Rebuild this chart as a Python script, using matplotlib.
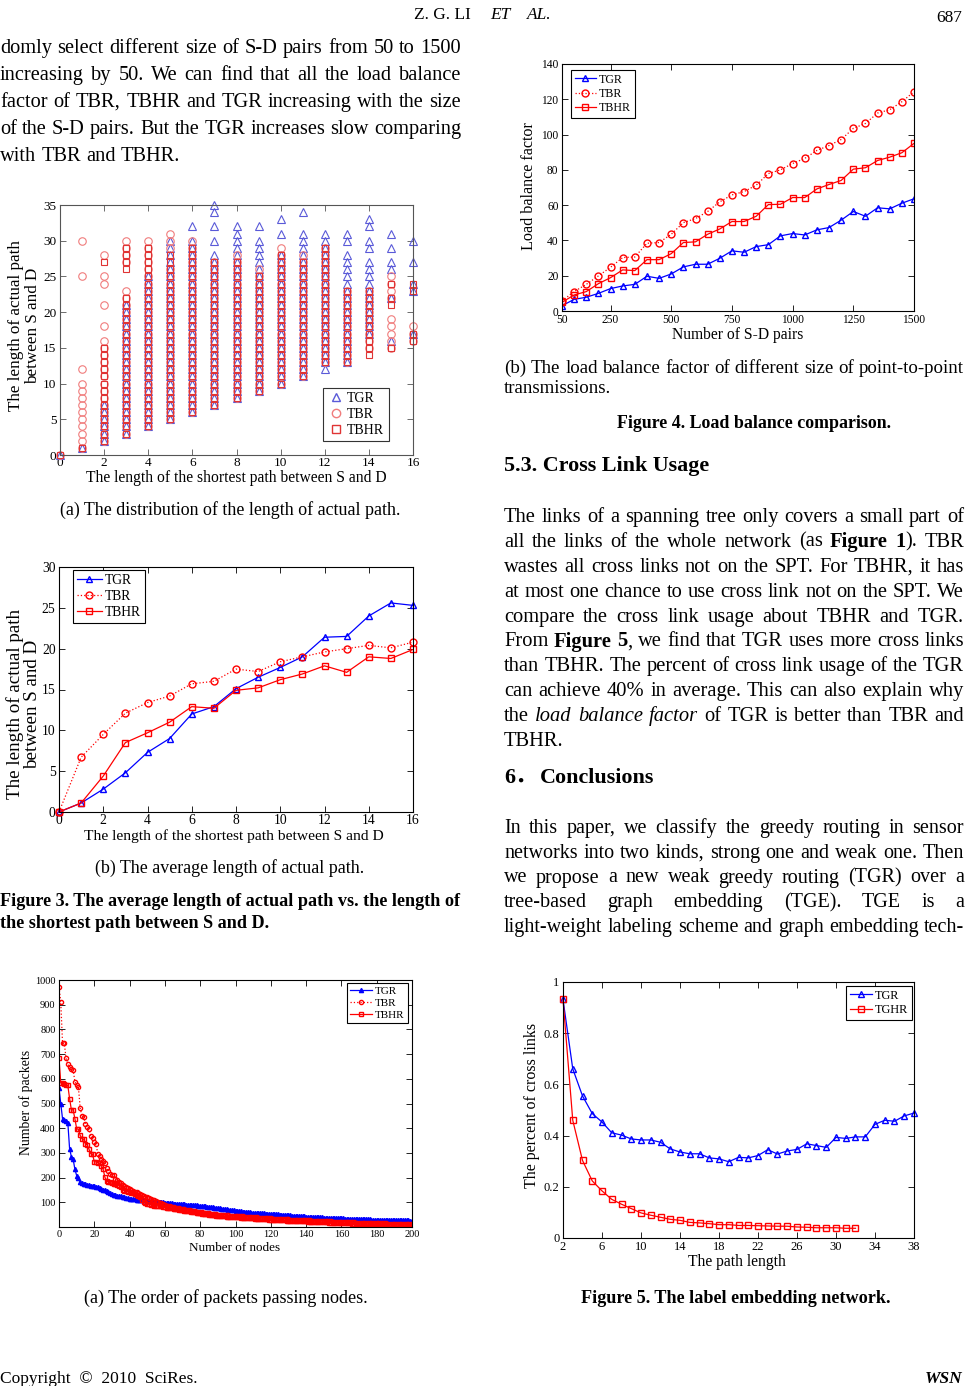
import numpy as np
import matplotlib
matplotlib.use("Agg")
import matplotlib.pyplot as plt
from matplotlib.lines import Line2D

# ---------------- data ----------------
# Fig 3(a) scatter: runs (lo, hi) of integer actual-path lengths present at each shortest-path length
TGR_RUNS = {0: [(0, 0)], 1: [(1, 1)], 2: [(2, 7)], 3: [(3, 21)], 4: [(4, 25)], 5: [(5, 30)],
            6: [(6, 30), (32, 32)], 7: [(7, 28), (30, 30), (32, 32), (34, 35)], 8: [(8, 32)],
            9: [(9, 30), (32, 32)], 10: [(10, 28), (31, 31), (33, 33)], 11: [(11, 31), (34, 34)],
            12: [(12, 31)], 13: [(13, 28), (30, 31)], 14: [(17, 27), (29, 30), (32, 33)],
            15: [(16, 16), (22, 22), (26, 27), (29, 29), (31, 31)],
            16: [(17, 17), (23, 24), (27, 27), (30, 30)]}
TBR_RUNS = {0: [(0, 0)], 1: [(1, 10), (12, 12), (25, 25), (30, 30)],
            2: [(2, 16), (18, 18), (21, 21), (24, 25), (28, 28)], 3: [(3, 23), (27, 30)],
            4: [(4, 30)], 5: [(5, 26), (29, 31)], 6: [(6, 30)], 7: [(7, 27)], 8: [(8, 28)],
            9: [(9, 26)], 10: [(10, 29)], 11: [(11, 28)], 12: [(13, 29)], 13: [(13, 23)],
            14: [(15, 23)], 15: [(15, 19), (22, 25)], 16: [(16, 18)]}
TBHR_RUNS = {0: [(0, 0)], 1: [(1, 1)], 2: [(2, 15), (27, 27)], 3: [(3, 22), (26, 29)],
             4: [(4, 29)], 5: [(5, 28)], 6: [(6, 29)], 7: [(7, 27)], 8: [(8, 27)], 9: [(9, 25)],
             10: [(10, 28)], 11: [(11, 27)], 12: [(13, 29)], 13: [(13, 23)], 14: [(14, 23)],
             15: [(15, 15), (21, 22), (24, 24)], 16: [(16, 17), (23, 24)]}

# Fig 3(b) average length of actual path
shortest = list(range(0, 17))
avg_tgr = [0, 1.1, 2.8, 4.8, 7.3, 9.0, 12.0, 12.9, 15.1, 16.5, 17.7, 19.0, 21.4, 21.5, 24.0, 25.6, 25.3]
avg_tbr = [0, 6.7, 9.5, 12.1, 13.4, 14.2, 15.7, 16.0, 17.5, 17.2, 18.4, 19.0, 19.6, 20.0, 20.4, 20.1, 20.8]
avg_tbhr = [0, 1.1, 4.4, 8.5, 9.7, 11.0, 12.9, 12.7, 14.9, 15.2, 16.2, 16.9, 17.9, 17.1, 19.0, 18.8, 19.9]

# Fig 4(a) packets per node (nodes ordered)
pk_tgr = [562, 500, 438, 435, 429, 422, 317, 285, 275, 234,
          208, 197, 181, 177, 174, 173, 171, 170, 168, 166,
          164, 162, 160, 157, 154, 151, 148, 145, 141, 137,
          133, 131, 129, 127, 126, 124, 122, 120, 118, 116,
          115, 114, 113, 112, 111, 110, 110, 109, 108, 108,
          107, 106, 105, 104, 103, 102, 101, 101, 100, 100,
          99, 98, 97, 97, 96, 95, 95, 94, 94, 93,
          92, 92, 91, 90, 90, 89, 89, 88, 88, 87,
          86, 85, 84, 83, 82, 81, 80, 79, 78, 77,
          76, 75, 74, 73, 72, 71, 70, 69, 68, 67,
          66, 65, 64, 63, 62, 62, 61, 60, 59, 58,
          58, 57, 57, 56, 56, 55, 55, 54, 54, 53,
          53, 52, 52, 51, 51, 50, 49, 49, 48, 48,
          47, 47, 46, 46, 45, 45, 44, 44, 43, 43,
          42, 42, 41, 41, 40, 40, 40, 39, 39, 39,
          38, 38, 38, 37, 37, 37, 36, 36, 36, 35,
          35, 35, 34, 34, 34, 33, 33, 33, 33, 32,
          32, 32, 32, 31, 31, 31, 31, 30, 30, 30,
          30, 30, 29, 29, 29, 29, 29, 28, 28, 28,
          28, 28, 28, 27, 27, 27, 27, 27, 27, 26,
          26]
pk_tbr = [971, 910, 745, 743, 683, 660, 648, 640, 636, 589,
          576, 566, 482, 449, 447, 415, 405, 398, 368, 362,
          345, 335, 295, 288, 275, 268, 260, 240, 225, 215,
          212, 210, 196, 190, 182, 178, 172, 168, 163, 158,
          154, 150, 147, 143, 140, 136, 132, 128, 124, 122,
          120, 117, 114, 111, 108, 105, 102, 99, 96, 93,
          88, 86, 84, 83, 81, 80, 78, 77, 75, 74,
          72, 71, 70, 68, 67, 66, 65, 63, 62, 61,
          60, 59, 58, 57, 56, 55, 54, 53, 52, 51,
          50, 49, 49, 48, 48, 47, 47, 46, 46, 45,
          45, 44, 44, 43, 43, 42, 42, 41, 41, 40,
          40, 39, 39, 38, 38, 37, 37, 36, 36, 35,
          35, 34, 34, 33, 33, 33, 32, 32, 32, 31,
          31, 30, 30, 30, 29, 29, 29, 28, 28, 28,
          27, 27, 27, 26, 26, 26, 25, 25, 25, 24,
          24, 24, 23, 23, 23, 22, 22, 22, 21, 21,
          21, 20, 20, 20, 19, 19, 19, 19, 18, 18,
          18, 18, 17, 17, 17, 17, 16, 16, 16, 16,
          16, 15, 15, 15, 15, 15, 14, 14, 14, 14,
          14, 14, 13, 13, 13, 13, 13, 13, 12, 12,
          12]
pk_tbhr = [683, 583, 583, 579, 575, 573, 520, 475, 474, 439,
           398, 395, 371, 358, 355, 337, 332, 315, 297, 295,
           264, 264, 261, 258, 248, 234, 202, 185, 183, 181,
           177, 175, 174, 172, 168, 161, 150, 147, 145, 143,
           141, 139, 137, 134, 130, 127, 122, 110, 100, 97,
           94, 92, 90, 89, 87, 86, 85, 84, 83, 81,
           80, 78, 77, 76, 75, 73, 72, 71, 70, 69,
           68, 66, 65, 64, 63, 62, 61, 59, 58, 56,
           55, 54, 53, 52, 51, 50, 49, 48, 47, 46,
           45, 45, 44, 43, 43, 42, 42, 41, 41, 40,
           40, 39, 39, 38, 38, 37, 37, 36, 36, 35,
           35, 34, 34, 33, 33, 32, 32, 31, 31, 30,
           30, 29, 29, 28, 28, 28, 27, 27, 27, 26,
           26, 26, 25, 25, 25, 24, 24, 24, 23, 23,
           23, 22, 22, 22, 21, 21, 21, 20, 20, 20,
           19, 19, 19, 18, 18, 18, 17, 17, 17, 16,
           16, 16, 15, 15, 15, 15, 14, 14, 14, 14,
           13, 13, 13, 13, 12, 12, 12, 12, 12, 11,
           11, 11, 11, 11, 10, 10, 10, 10, 10, 10,
           9, 9, 9, 9, 9, 9, 9, 8, 8, 8,
           8]

# Fig 4(b) load balance factor
sd_pairs = list(range(50, 1501, 50))
lb_tgr = [3.0, 6.6, 7.8, 10.0, 12.7, 14.2, 15.1, 19.7, 18.5, 21.0, 25.0, 26.5, 26.5, 29.9, 34.1,
          33.3, 36.5, 37.6, 42.6, 43.9, 43.1, 46.0, 47.3, 51.5, 56.4, 53.7, 58.5, 57.9, 61.1, 63.6]
lb_tbr = [5.7, 11.0, 15.1, 19.9, 24.8, 30.3, 30.6, 38.4, 38.8, 43.5, 50.1, 52.4, 56.4, 61.9, 65.8,
          67.7, 71.3, 77.9, 80.0, 83.6, 86.5, 91.0, 93.8, 97.2, 103.5, 106.3, 112.2, 114.1, 118.6, 124.3]
lb_tbhr = [4.9, 9.1, 11.0, 15.5, 18.9, 23.3, 22.9, 29.1, 29.1, 32.5, 38.8, 39.2, 43.5, 46.5, 50.7,
           50.7, 53.7, 60.3, 60.5, 64.3, 64.3, 69.2, 71.7, 74.0, 80.4, 81.2, 85.3, 87.2, 89.7, 95.0]

# Fig 5 percent of cross links
path_tgr = list(range(2, 39))
cl_tgr = [0.932, 0.661, 0.555, 0.486, 0.453, 0.411, 0.402, 0.387, 0.383, 0.383, 0.374, 0.348, 0.336,
          0.329, 0.329, 0.313, 0.309, 0.298, 0.315, 0.313, 0.322, 0.345, 0.328, 0.340, 0.346, 0.368,
          0.361, 0.354, 0.393, 0.389, 0.395, 0.395, 0.444, 0.460, 0.456, 0.477, 0.488]
path_tghr = list(range(2, 33))
cl_tghr = [0.932, 0.460, 0.303, 0.223, 0.184, 0.151, 0.132, 0.115, 0.098, 0.089, 0.081, 0.073, 0.069,
           0.061, 0.059, 0.056, 0.052, 0.052, 0.049, 0.049, 0.048, 0.047, 0.046, 0.046, 0.043, 0.042,
           0.040, 0.040, 0.040, 0.038, 0.038]

# ---------------- page text ----------------
PAR_TOP = ["domly select different size of S-D pairs from 50 to 1500",
           "increasing by 50. We can find that all the load balance",
           "factor of TBR, TBHR and TGR increasing with the size",
           "of the S-D pairs. But the TGR increases slow comparing",
           "with TBR and TBHR."]
PAR_CROSS = ["The links of a spanning tree only covers a small part of",
             "all the links of the whole network (as *Figure 1*). TBR",
             "wastes all cross links not on the SPT. For TBHR, it has",
             "at most one chance to use cross link not on the SPT. We",
             "compare the cross link usage about TBHR and TGR.",
             "From *Figure 5*, we find that TGR uses more cross links",
             "than TBHR. The percent of cross link usage of the TGR",
             "can achieve 40% in average. This can also explain why",
             "the _load balance factor_ of TGR is better than TBR and",
             "TBHR."]
PAR_CONC = ["In this paper, we classify the greedy routing in sensor",
            "networks into two kinds, strong one and weak one. Then",
            "we propose a new weak greedy routing (TGR) over a",
            "tree-based graph embedding (TGE). TGE is a",
            "light-weight labeling scheme and graph embedding tech-"]

# ---------------- setup ----------------
W, H, DPI = 967, 1386, 100
SERIF = "Liberation Serif"
plt.rcParams["font.family"] = [SERIF, "DejaVu Serif"]
fig = plt.figure(figsize=(W / DPI, H / DPI), dpi=DPI)
fig.patch.set_facecolor("white")
R = fig.canvas.get_renderer()
BLUE, RED = "#0000ff", "#ff0000"


def put(s, x, y, size, ha="left", va="baseline", weight="normal", style="normal", rot=0, family=None,
        color="k", rmode="default"):
    kw = dict(fontsize=size, ha=ha, va=va, fontweight=weight, fontstyle=style, rotation=rot, color=color,
              rotation_mode=rmode)
    if family:
        kw["family"] = family
    return fig.text(x / W, 1 - y / H, s, **kw)


def width_of(s, size, weight="normal", style="normal", family=None):
    t = put(s, 0, -100, size, weight=weight, style=style, family=family)
    w = t.get_window_extent(R).width
    t.remove()
    return w


def fitsize(s, width, weight="normal", style="normal", family=None):
    return 10 * width / width_of(s, 10, weight, style, family)


def parse(line):
    words, cur, buf = [], [], ""
    bold = ital = False
    for ch in line:
        if ch in "*_":
            if buf:
                cur.append((buf, bold, ital)); buf = ""
            if ch == "*":
                bold = not bold
            else:
                ital = not ital
        elif ch == " ":
            if buf:
                cur.append((buf, bold, ital)); buf = ""
            if cur:
                words.append(cur); cur = []
        else:
            buf += ch
    if buf:
        cur.append((buf, bold, ital))
    if cur:
        words.append(cur)
    return words


def space_w(size):
    return width_of("x x", size) - width_of("xx", size)


def natural_width(line, size):
    words = parse(line)
    tot = 0
    for w in words:
        for (t, b, i) in w:
            tot += width_of(t, size, "bold" if b else "normal", "italic" if i else "normal")
    return tot + (len(words) - 1) * space_w(size)


def text_line(line, x0, x1, yb, size, justify):
    words = parse(line)
    objs, widths = [], []
    for w in words:
        wo, ww = [], 0
        for (t, b, i) in w:
            to = put(t, 0, yb, size, weight="bold" if b else "normal", style="italic" if i else "normal")
            wd = to.get_window_extent(R).width
            wo.append((to, wd)); ww += wd
        objs.append(wo); widths.append(ww)
    space = space_w(size)
    gap = (x1 - x0 - sum(widths)) / (len(words) - 1) if (justify and len(words) > 1) else space
    x = x0
    for wo, ww in zip(objs, widths):
        for to, wd in wo:
            to.set_x(x / W); x += wd
        x += gap


def paragraph(lines, x0, x1, y0, dy, size_max, last_justified=False):
    just = [(k < len(lines) - 1) or last_justified for k in range(len(lines))]
    size = size_max
    for ln, j in zip(lines, just):
        if j:
            size = min(size, 10 * (x1 - x0) / natural_width(ln, 10))
    for k, ln in enumerate(lines):
        text_line(ln, x0, x1, y0 + k * dy, size, just[k])
    return size


def mk_axes(l, t, r, b, ls, spc="k"):
    ax = fig.add_axes([l / W, 1 - b / H, (r - l) / W, (b - t) / H])
    ax.tick_params(direction="in", top=True, right=True, length=4, width=0.6, labelsize=ls, pad=2.5, color=spc)
    for s in ax.spines.values():
        s.set_linewidth(0.8); s.set_color(spc)
    return ax


def legend(ax, handles, labels, x, y, fs, loc="upper left", hl=1.6):
    leg = ax.legend(handles, labels, loc=loc, bbox_to_anchor=(x / W, 1 - y / H), bbox_transform=fig.transFigure,
                    frameon=True, fancybox=False, edgecolor="k", framealpha=1, fontsize=fs, handlelength=hl,
                    handletextpad=0.25, borderpad=0.3, labelspacing=0.2, borderaxespad=0)
    leg.get_frame().set_linewidth(0.8)
    return leg


def hlabel(s, x0, x1, yc):
    sz = fitsize(s, x1 - x0)
    put(s, (x0 + x1) / 2, yc, sz, ha="center", va="center")


def vlabel(s, xc, y0, y1, size=None):
    sz = size or fitsize(s, y1 - y0)
    put(s, xc, (y0 + y1) / 2, sz, ha="center", va="center", rot=90)
    return sz


def vlabel_base(s, xb, yc, size):
    # rotated text anchored at its baseline (x = baseline position)
    put(s, xb, yc, size, ha="center", va="baseline", rot=90, rmode="anchor")


def expand(runs):
    xs, ys = [], []
    for x, rl in runs.items():
        for lo, hi in rl:
            for v in range(lo, hi + 1):
                xs.append(x); ys.append(v)
    return xs, ys


# ---------------- Fig 3(a) scatter ----------------
ax1 = mk_axes(60, 205, 413, 455, 9.5, spc="#555555")
c_tgr, c_tbr, c_tbhr = "#5a5ad8", "#f07c7c", "#e03434"
for runs, mk, c in [(TGR_RUNS, "^", c_tgr), (TBR_RUNS, "o", c_tbr), (TBHR_RUNS, "s", c_tbhr)]:
    xs, ys = expand(runs)
    ax1.plot(xs, ys, ls="none", marker=mk, ms=5.4 if mk != "s" else 4.8, mfc="none", mec=c, mew=0.8, clip_on=False)
ax1.set_xlim(0, 16); ax1.set_ylim(0, 35)
ax1.set_xticks(range(0, 17, 2)); ax1.set_yticks(range(0, 36, 5))
ax1.tick_params(axis="x", pad=1.5)
h1 = [Line2D([], [], ls="none", marker="^", ms=6, mfc="none", mec=c_tgr),
      Line2D([], [], ls="none", marker="o", ms=6, mfc="none", mec=c_tbr),
      Line2D([], [], ls="none", marker="s", ms=5.5, mfc="none", mec=c_tbhr)]
lg = legend(ax1, h1, ["TGR", "TBR", "TBHR"], 323, 388, 10, hl=1.2)
lg.get_frame().set_edgecolor("#333333")
hlabel("The length of the shortest path between S and D", 86, 387, 478)
s1 = fitsize("The length of actual path", 172)
vlabel_base("The length of actual path", 20, 326, s1)
vlabel_base("between S and D", 37, 326, s1)
put("(a) The distribution of the length of actual path.", 230, 515,
    fitsize("(a) The distribution of the length of actual path.", 341), ha="center")

# ---------------- Fig 3(b) lines ----------------
ax2 = mk_axes(59, 567, 413, 812, 9.8)
ax2.plot(shortest, avg_tgr, "-", color=BLUE, lw=0.9, marker="^", ms=5, mfc="none", mec=BLUE, clip_on=False, label="TGR")
ax2.plot(shortest, avg_tbr, ":", color=RED, lw=0.9, marker="o", ms=5, mfc="none", mec=RED, clip_on=False, label="TBR")
ax2.plot(shortest, avg_tbhr, "-", color=RED, lw=0.9, marker="s", ms=4.5, mfc="none", mec=RED, clip_on=False, label="TBHR")
ax2.set_xlim(0, 16); ax2.set_ylim(0, 30)
ax2.set_xticks(range(0, 17, 2)); ax2.set_yticks(range(0, 31, 5))
ax2.tick_params(axis="x", pad=1.5)
legend(ax2, *ax2.get_legend_handles_labels(), 73, 570, 9.8, hl=1.8)
hlabel("The length of the shortest path between S and D", 85, 383, 836)
s2 = fitsize("The length of actual path", 190)
vlabel_base("The length of actual path", 20, 704, s2)
vlabel_base("between S and D", 37, 704, s2)
put("(b) The average length of actual path.", 230, 873,
    fitsize("(b) The average length of actual path.", 269), ha="center")
fs3 = fitsize("Figure 3. The average length of actual path vs. the length of", 461, weight="bold")
put("Figure 3. The average length of actual path vs. the length of", 0, 906, fs3, weight="bold")
put("the shortest path between S and D.", 0, 928, fs3, weight="bold")

# ---------------- Fig 4(a) packets ----------------
ax3 = mk_axes(59, 980, 412, 1227, 7.5)
ax3.plot(np.arange(len(pk_tgr)), pk_tgr, "-", color=BLUE, lw=0.9, marker="^", ms=3, mfc=BLUE, mec=BLUE, label="TGR")
ax3.plot(np.arange(len(pk_tbr)), pk_tbr, ":", color=RED, lw=0.9, marker="o", ms=3, mfc="none", mec=RED, label="TBR")
ax3.plot(np.arange(len(pk_tbhr)), pk_tbhr, "-", color=RED, lw=0.9, marker="s", ms=3.2, mfc="none", mec=RED, label="TBHR")
ax3.set_xlim(0, 200); ax3.set_ylim(0, 1000)
ax3.set_xticks(range(0, 201, 20)); ax3.set_yticks(range(100, 1001, 100))
legend(ax3, *ax3.get_legend_handles_labels(), 408, 983, 8, loc="upper right", hl=2.0)
hlabel("Number of nodes", 189, 280, 1248)
vlabel("Number of packets", 26, 1050, 1155)
put("(a) The order of packets passing nodes.", 226, 1303,
    fitsize("(a) The order of packets passing nodes.", 285), ha="center")

# ---------------- Fig 4(b) load balance ----------------
ax4 = mk_axes(562, 64, 914, 311, 8.3)
ax4.plot(sd_pairs, lb_tgr, "-", color=BLUE, lw=0.9, marker="^", ms=5, mfc="none", mec=BLUE, label="TGR")
ax4.plot(sd_pairs, lb_tbr, ":", color=RED, lw=0.9, marker="o", ms=5, mfc="none", mec=RED, label="TBR")
ax4.plot(sd_pairs, lb_tbhr, "-", color=RED, lw=0.9, marker="s", ms=4.5, mfc="none", mec=RED, label="TBHR")
ax4.set_xlim(50, 1500); ax4.set_ylim(0, 140)
ax4.set_xticks([50, 250, 500, 750, 1000, 1250, 1500]); ax4.set_yticks(range(0, 141, 20))
legend(ax4, *ax4.get_legend_handles_labels(), 571, 70, 8.6, hl=1.8)
hlabel("Number of S-D pairs", 672, 803, 335)
vlabel("Load balance factor", 529, 122, 250)

# ---------------- Fig 5 cross links ----------------
ax5 = mk_axes(563, 982, 914, 1238, 9)
ax5.plot(path_tgr, cl_tgr, "-", color=BLUE, lw=0.9, marker="^", ms=5, mfc="none", mec=BLUE, clip_on=False, label="TGR")
ax5.plot(path_tghr, cl_tghr, "-", color=RED, lw=0.9, marker="s", ms=4.2, mfc="none", mec=RED, clip_on=False, label="TGHR")
ax5.set_xlim(2, 38); ax5.set_ylim(0, 1)
ax5.set_xticks(range(2, 39, 4)); ax5.set_yticks([0, 0.2, 0.4, 0.6, 0.8, 1.0])
ax5.set_yticklabels(["0", "0.2", "0.4", "0.6", "0.8", "1"])
legend(ax5, *ax5.get_legend_handles_labels(), 912, 986, 8.8, loc="upper right", hl=1.8)
hlabel("The path length", 688, 786, 1262)
vlabel("The percent of cross links", 532, 1023, 1188)
fc5 = fitsize("Figure 5. The label embedding network.", 310, weight="bold")
put("Figure 5. The label embedding network.", 736, 1303, fc5, weight="bold", ha="center")

# ---------------- page text ----------------
put("Z. G. LI", 414, 19, 12.5)
put("ET", 490, 19, 12.5, style="italic")
put("AL.", 527, 19, 12.5, style="italic")
put("687", 962, 22, 12.5, ha="right")

paragraph(PAR_TOP, 0, 461, 53, 27, 16)

cap_sz = 10 * 460 / natural_width("(b) The load balance factor of different size of point-to-point", 10)
text_line("(b) The load balance factor of different size of point-to-point", 504, 964, 373, min(cap_sz, 14), True)
text_line("transmissions.", 504, 964, 393, min(cap_sz, 14), False)
f4 = fitsize("Figure 4. Load balance comparison.", 275, weight="bold")
put("Figure 4. Load balance comparison.", 617, 428, f4, weight="bold")
hs = fitsize("5.3. Cross Link Usage", 204, weight="bold")
put("5.3. Cross Link Usage", 504, 471, hs, weight="bold")
paragraph(PAR_CROSS, 504, 964, 522, 24.9, 15.5)
put("6\uff0e", 504, 783, hs, weight="bold", family=[SERIF, "Noto Sans CJK SC"])
put("Conclusions", 540, 783, hs, weight="bold")
paragraph(PAR_CONC, 504, 964, 833, 24.75, 15.5, last_justified=True)

put("Copyright  \u00a9  2010  SciRes.", 0, 1383, 12.5)
put("WSN", 962, 1383, 12.5, ha="right", weight="bold", style="italic")

fig.savefig("out.png", dpi=DPI, facecolor="white")
